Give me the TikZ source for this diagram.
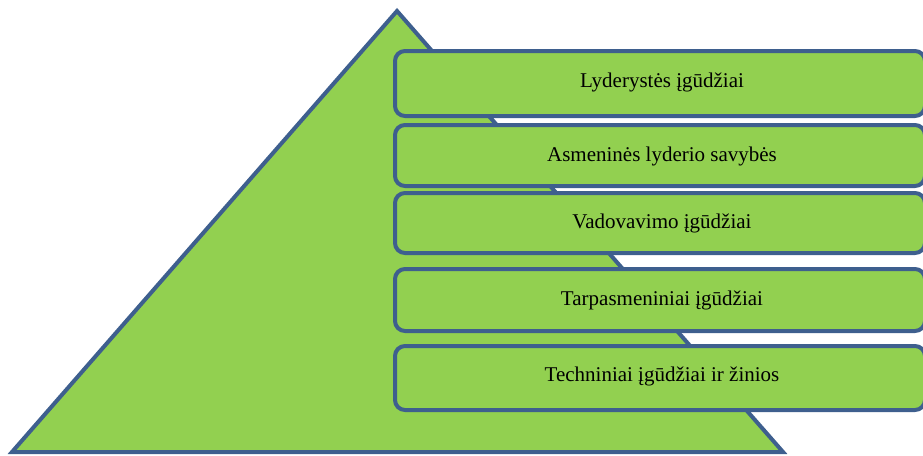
\documentclass[tikz,border=0pt]{standalone}
\usepackage{fontspec}
\setmainfont{Liberation Serif}
\definecolor{fillgreen}{HTML}{92D050}
\definecolor{edgeblue}{HTML}{3E5F8E}
\begin{document}
\begin{tikzpicture}[x=1pt,y=-1pt,
  tri/.style={fill=fillgreen,draw=edgeblue,line width=4pt,line join=miter},
  bar/.style={fill=fillgreen,draw=edgeblue,line width=4pt,rounded corners=10pt},
  lbl/.style={font=\fontsize{21}{24}\selectfont,text=black}]
\useasboundingbox (0,0) rectangle (923,455);
\begin{scope}
\clip (0,0) rectangle (923,455);
\draw[tri] (397,11) -- (783,452) -- (12,452) -- cycle;
\draw[bar] (395,51) rectangle (925,116);
\draw[bar] (395,125) rectangle (925,186);
\draw[bar] (395,193) rectangle (925,253);
\draw[bar] (395,269) rectangle (925,331);
\draw[bar] (395,346) rectangle (925,410);
\end{scope}
\node[lbl] (t1) at (662,82) {Lyderystės įgūdžiai};
\node[lbl] (t2) at (662,156) {Asmeninės lyderio savybės};
\node[lbl] (t3) at (662,223) {Vadovavimo įgūdžiai};
\node[lbl] (t4) at (662,300) {Tarpasmeniniai įgūdžiai};
\node[lbl] (t5) at (662,376) {Techniniai įgūdžiai ir žinios};
\end{tikzpicture}
\end{document}
